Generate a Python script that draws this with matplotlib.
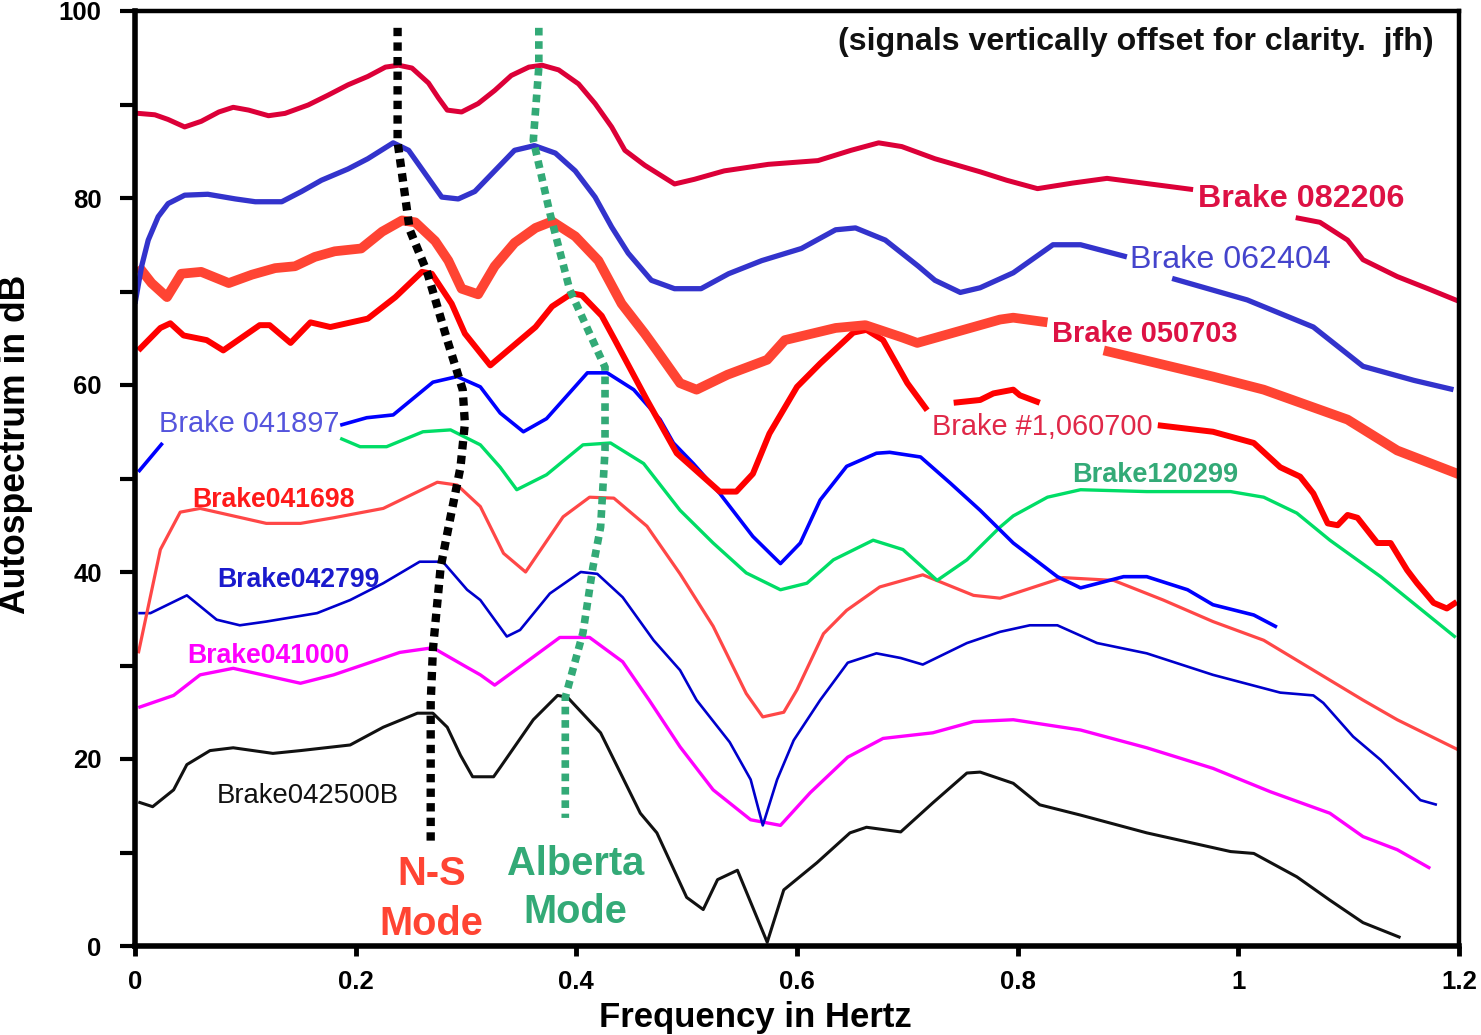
import numpy as np
import matplotlib
matplotlib.use("Agg")
import matplotlib.pyplot as plt

plt.rcParams['font.family'] = ['Liberation Sans', 'DejaVu Sans']

nan = np.nan

# ---------------- data (frequency in Hz, autospectrum in dB, offset) -------------
x_082206 = [0.0, 0.003, 0.018, 0.030, 0.045, 0.060, 0.076, 0.089, 0.103, 0.121, 0.136, 0.157, 0.175,
            0.193, 0.211, 0.227, 0.239, 0.251, 0.266, 0.275, 0.283, 0.296, 0.311, 0.326, 0.341, 0.357,
            0.369, 0.384, 0.402, 0.417, 0.432, 0.444, 0.462, 0.489, 0.507, 0.534, 0.574, 0.619, 0.649,
            0.674, 0.695, 0.725, 0.766, 0.790, 0.818, 0.850, 0.881, 0.920, 0.959, nan,
            1.052, 1.074, 1.099, 1.113, 1.144, 1.174, 1.201]
y_082206 = [89.1, 89.05, 88.9, 88.4, 87.6, 88.2, 89.2, 89.7, 89.4, 88.8, 89.05, 89.95, 91.0,
            92.1, 93.0, 94.0, 94.2, 93.9, 92.3, 90.7, 89.4, 89.2, 90.1, 91.5, 93.1, 94.0,
            94.2, 93.7, 92.2, 90.1, 87.6, 85.1, 83.5, 81.5, 82.0, 82.9, 83.6, 84.0, 85.1,
            85.9, 85.5, 84.2, 82.8, 81.9, 81.0, 81.6, 82.1, 81.5, 80.9, nan,
            77.9, 77.4, 75.5, 73.4, 71.6, 70.2, 68.9]

x_062404 = [0.0, 0.006, 0.012, 0.021, 0.030, 0.045, 0.066, 0.091, 0.109, 0.133, 0.151, 0.169, 0.193,
            0.211, 0.234, 0.248, 0.263, 0.278, 0.293, 0.308, 0.326, 0.344, 0.362, 0.381, 0.399, 0.417,
            0.432, 0.447, 0.468, 0.489, 0.513, 0.538, 0.568, 0.604, 0.635, 0.653, 0.680, 0.710, 0.725,
            0.748, 0.766, 0.796, 0.832, 0.857, 0.899, nan, 0.940, 1.008, 1.068, 1.113, 1.159, 1.195]
y_062404 = [68.7, 72.7, 75.5, 78.0, 79.4, 80.3, 80.4, 79.9, 79.6, 79.6, 80.7, 81.9, 83.1,
            84.2, 85.9, 85.1, 82.6, 80.1, 79.9, 80.7, 82.9, 85.1, 85.6, 84.8, 82.9, 80.1,
            76.9, 74.1, 71.2, 70.3, 70.3, 71.9, 73.3, 74.6, 76.6, 76.8, 75.5, 72.7, 71.2,
            69.9, 70.4, 72.0, 75.0, 75.0, 73.7, nan, 71.4, 69.1, 66.2, 62.0, 60.5, 59.5]

x_050703 = [0.003, 0.015, 0.029, 0.042, 0.060, 0.085, 0.106, 0.127, 0.145, 0.163, 0.181, 0.205, 0.224,
            0.242, 0.254, 0.272, 0.284, 0.296, 0.311, 0.326, 0.344, 0.363, 0.378, 0.399, 0.420, 0.441,
            0.462, 0.473, 0.494, 0.509, 0.537, 0.573, 0.589, 0.635, 0.662, 0.695, 0.709, 0.784, 0.796,
            0.827, nan, 0.878, 0.977, 1.023, 1.099, 1.144, 1.201]
y_050703 = [72.7, 70.9, 69.4, 71.9, 72.1, 70.9, 71.8, 72.5, 72.7, 73.7, 74.3, 74.6, 76.4,
            77.6, 77.4, 75.4, 73.3, 70.3, 69.7, 72.7, 75.2, 76.8, 77.5, 75.9, 73.3, 68.7,
            65.5, 63.7, 60.2, 59.5, 61.1, 62.7, 64.8, 66.1, 66.4, 65.1, 64.5, 67.0, 67.2,
            66.7, nan, 63.7, 60.9, 59.5, 56.3, 53.0, 50.4]

x_060700 = [0.003, 0.023, 0.032, 0.044, 0.065, 0.080, 0.113, 0.122, 0.141, 0.159, 0.177, 0.211, 0.236,
            0.260, 0.269, 0.287, 0.299, 0.322, 0.349, 0.363, 0.378, 0.396, 0.405, 0.423, 0.435, 0.464,
            0.491, 0.530, 0.545, 0.560, 0.575, 0.593, 0.600, 0.621, 0.651, 0.663, 0.678, 0.700, 0.718,
            nan, 0.742, 0.766, 0.778, 0.796, 0.802, 0.820, nan,
            0.927, 0.977, 1.014, 1.038, 1.056, 1.068, 1.081, 1.090, 1.099, 1.108, 1.126, 1.138,
            1.153, 1.162, 1.177, 1.189, 1.198]
y_060700 = [63.7, 66.1, 66.6, 65.3, 64.8, 63.7, 66.4, 66.4, 64.5, 66.7, 66.2, 67.1, 69.4,
            72.1, 71.9, 68.7, 65.5, 62.1, 64.8, 66.2, 68.4, 69.8, 69.6, 67.4, 64.8, 58.4,
            52.7, 48.6, 48.6, 50.5, 54.8, 58.4, 59.8, 62.3, 65.6, 65.9, 64.8, 60.2, 57.3,
            nan, 58.1, 58.4, 59.1, 59.5, 58.9, 58.1, nan,
            55.7, 55.0, 53.8, 51.2, 50.2, 48.4, 45.2, 45.0, 46.1, 45.8, 43.1, 43.1,
            40.2, 38.8, 36.7, 36.1, 36.8]

x_041897 = [0.003, 0.025, nan, 0.186, 0.210, 0.234, 0.270, 0.292, 0.313, 0.331, 0.352, 0.373, 0.410,
            0.428, 0.452, 0.476, 0.488, 0.506, 0.530, 0.560, 0.585, 0.603, 0.621, 0.645, 0.672,
            0.684, 0.712, 0.739, 0.766, 0.796, 0.836, 0.857, 0.896, 0.917, 0.954, 0.977, 1.014, 1.035]
y_041897 = [50.7, 53.8, nan, 55.7, 56.5, 56.8, 60.3, 60.9, 59.8, 57.0, 55.0, 56.4, 61.3,
            61.3, 59.5, 56.3, 53.8, 51.6, 48.4, 43.8, 40.9, 43.1, 47.7, 51.3, 52.7,
            52.8, 52.3, 49.5, 46.6, 43.1, 39.5, 38.3, 39.5, 39.5, 38.1, 36.5, 35.4, 34.1]

x_120299 = [0.186, 0.204, 0.228, 0.261, 0.286, 0.313, 0.331, 0.346, 0.373, 0.406, 0.431, 0.461, 0.494,
            0.524, 0.554, 0.585, 0.609, 0.633, 0.669, 0.696, 0.727, 0.754, 0.766, 0.784, 0.796,
            0.827, 0.857, 0.917, 0.993, 1.023, 1.053, 1.083, 1.129, 1.197]
y_120299 = [54.3, 53.4, 53.4, 55.0, 55.2, 53.6, 51.2, 48.8, 50.4, 53.6, 53.8, 51.6, 46.6,
            43.1, 39.9, 38.1, 38.8, 41.3, 43.4, 42.4, 39.1, 41.3, 42.7, 44.8, 46.0,
            48.0, 48.8, 48.6, 48.6, 48.0, 46.3, 43.4, 39.5, 33.0]

x_041698 = [0.003, 0.023, 0.041, 0.059, 0.119, 0.150, 0.180, 0.225, 0.274, 0.292, 0.313, 0.334, 0.354,
            0.388, 0.412, 0.434, 0.464, 0.494, 0.524, 0.554, 0.569, 0.588, 0.600, 0.624, 0.645,
            0.675, 0.714, 0.760, 0.784, 0.841, 0.887, 0.932, 0.977, 1.023, 1.068, 1.113, 1.144, 1.199]
y_041698 = [31.3, 42.4, 46.4, 46.8, 45.2, 45.2, 45.8, 46.8, 49.6, 49.3, 47.0, 42.0, 40.0,
            45.9, 48.0, 47.9, 44.9, 39.8, 34.2, 27.0, 24.5, 25.0, 27.4, 33.4, 35.9,
            38.4, 39.7, 37.5, 37.2, 39.4, 39.1, 37.0, 34.7, 32.7, 29.5, 26.3, 24.2, 21.0]

x_042799 = [0.003, 0.014, 0.047, 0.074, 0.095, 0.119, 0.165, 0.195, 0.225, 0.258, 0.279, 0.301, 0.313,
            0.337, 0.349, 0.376, 0.404, 0.419, 0.442, 0.470, 0.494, 0.509, 0.539, 0.558, 0.569,
            0.582, 0.597, 0.621, 0.646, 0.672, 0.694, 0.714, 0.754, 0.784, 0.811, 0.836, 0.872,
            0.917, 0.977, 1.038, 1.068, 1.077, 1.104, 1.129, 1.165, 1.180]
y_042799 = [35.6, 35.6, 37.5, 34.9, 34.3, 34.7, 35.6, 37.0, 38.8, 41.1, 41.1, 38.1, 37.0,
            33.1, 33.8, 37.7, 40.0, 39.8, 37.3, 32.7, 29.5, 26.3, 21.8, 17.8, 12.9,
            17.8, 22.0, 26.3, 30.3, 31.3, 30.8, 30.1, 32.4, 33.6, 34.3, 34.3, 32.4,
            31.3, 29.0, 27.1, 26.8, 26.0, 22.4, 19.9, 15.6, 15.1]

x_041000 = [0.003, 0.035, 0.059, 0.089, 0.150, 0.180, 0.240, 0.270, 0.301, 0.313, 0.326, 0.355, 0.385,
            0.412, 0.442, 0.466, 0.494, 0.524, 0.558, 0.585, 0.612, 0.646, 0.678, 0.723, 0.760,
            0.796, 0.857, 0.917, 0.977, 1.029, 1.083, 1.113, 1.144, 1.174]
y_041000 = [25.5, 26.8, 29.0, 29.7, 28.1, 29.0, 31.4, 31.9, 29.8, 29.0, 27.9, 30.4, 33.0,
            33.0, 30.4, 26.3, 21.3, 16.7, 13.5, 12.9, 16.4, 20.2, 22.2, 22.8, 24.0,
            24.2, 23.1, 21.2, 19.0, 16.5, 14.2, 11.7, 10.3, 8.3]

x_042500B = [0.003, 0.016, 0.035, 0.047, 0.068, 0.089, 0.125, 0.150, 0.195, 0.225, 0.256, 0.270, 0.283,
             0.295, 0.306, 0.325, 0.331, 0.361, 0.383, 0.392, 0.422, 0.458, 0.473, 0.500, 0.515,
             0.528, 0.546, 0.573, 0.588, 0.618, 0.648, 0.663, 0.694, 0.723, 0.754, 0.766, 0.796,
             0.820, 0.857, 0.917, 0.993, 1.014, 1.053, 1.083, 1.113, 1.147]
y_042500B = [15.4, 14.9, 16.7, 19.4, 20.9, 21.2, 20.6, 20.9, 21.5, 23.4, 24.9, 24.9, 23.4,
             20.4, 18.1, 18.1, 19.1, 24.2, 26.8, 26.6, 22.8, 14.2, 12.1, 5.2, 3.9,
             7.1, 8.1, 0.4, 6.0, 8.9, 12.1, 12.7, 12.2, 15.3, 18.5, 18.6, 17.4,
             15.1, 14.0, 12.1, 10.1, 9.9, 7.4, 4.9, 2.5, 0.9]

x_ns_mode = [0.238, 0.238, 0.249, 0.265, 0.283, 0.297, 0.299, 0.295, 0.286, 0.277, 0.270, 0.268, 0.268]
y_ns_mode = [98.2, 86.0, 76.6, 72.0, 64.8, 59.5, 55.9, 51.2, 45.9, 40.5, 31.7, 26.0, 11.0]

x_alberta = [0.366, 0.366, 0.361, 0.376, 0.394, 0.419, 0.426, 0.426, 0.422, 0.415, 0.406, 0.390, 0.390]
y_alberta = [98.2, 94.0, 86.2, 78.4, 70.2, 63.7, 61.9, 53.0, 44.8, 40.5, 33.5, 26.6, 13.7]

x_ticks = [0, 0.2, 0.4, 0.6, 0.8, 1.0, 1.2]
x_ticklabels = ['0', '0.2', '0.4', '0.6', '0.8', '1', '1.2']
y_ticks = [0, 20, 40, 60, 80, 100]
y_minor = [10, 30, 50, 70, 90]

# ---------------- figure ----------------
W, H = 1481, 1035
fig = plt.figure(figsize=(W / 100, H / 100), dpi=100)
L, R, T, B = 135, 1459, 11, 946
ax = fig.add_axes([L / W, (H - B) / H, (R - L) / W, (B - T) / H])
ax.set_xlim(0, 1.2)
ax.set_ylim(0, 100)

def line(x, y, color, lw, **kw):
    ax.plot(x, y, color=color, lw=lw, solid_joinstyle='round', solid_capstyle='butt', **kw)

line(x_042500B, y_042500B, '#111111', 2.2)
line(x_041000, y_041000, '#FF00FF', 2.4)
line(x_042799, y_042799, '#0000CC', 1.9)
line(x_041698, y_041698, '#FF4747', 2.3)
line(x_120299, y_120299, '#00DD66', 2.4)
line(x_041897, y_041897, '#0000FF', 2.6)
line(x_060700, y_060700, '#FF0000', 4.3)
line(x_050703, y_050703, '#FF4433', 7.0)
line(x_062404, y_062404, '#3333CC', 3.8)
line(x_082206, y_082206, '#DC0038', 3.6)

ax.plot(x_ns_mode, y_ns_mode, color='black', lw=6, linestyle=(0, (1, 0.75)),
        dash_capstyle='butt', dash_joinstyle='miter')
ax.plot(x_alberta, y_alberta, color='#33AA77', lw=5.5, linestyle=(0, (1, 0.75)),
        dash_capstyle='butt', dash_joinstyle='miter')

# ---------------- labels ----------------
def lab(x, y, s, color, size, weight='bold', ha='left'):
    ax.text(x, y, s, color=color, fontsize=size, fontweight=weight, ha=ha, va='baseline')

lab(0.963, 79.0, 'Brake 082206', '#DD1144', 23.2)
lab(0.902, 72.5, 'Brake 062404', '#4444CC', 23.2, 'normal')
lab(0.831, 64.6, 'Brake 050703', '#DD1144', 20.9)
lab(0.7226, 54.7, 'Brake #1,060700', '#E02848', 20.8, 'normal')
lab(0.0218, 55.0, 'Brake 041897', '#5555DD', 20.9, 'normal')
lab(0.8495, 49.6, 'Brake120299', '#33AA77', 19.5)
lab(0.0517, 47.0, 'Brake041698', '#FF1A1A', 19.2)
lab(0.0743, 38.4, 'Brake042799', '#1A1ACC', 19.2)
lab(0.0471, 30.3, 'Brake041000', '#FF00FF', 19.2)
lab(0.0743, 15.3, 'Brake042500B', '#111111', 19.8, 'normal')

lab(0.269, 6.5, 'N-S', '#FF4433', 28.7, ha='center')
lab(0.269, 1.2, 'Mode', '#FF4433', 28.7, ha='center')
lab(0.399, 7.6, 'Alberta', '#33AA77', 28.7, ha='center')
lab(0.399, 2.5, 'Mode', '#33AA77', 28.7, ha='center')

lab(1.177, 95.8, '(signals vertically offset for clarity.  jfh)', '#111111', 23.1, ha='right')

# ---------------- axes styling ----------------
for s in ax.spines.values():
    s.set_linewidth(3.2)
    s.set_color('black')
ax.spines['left'].set_linewidth(4.0)
ax.spines['bottom'].set_linewidth(4.0)

ax.set_xticks(x_ticks)
ax.set_xticklabels(x_ticklabels)
ax.set_yticks(y_ticks)
ax.set_yticks(y_minor, minor=True)
ax.tick_params(axis='y', which='both', direction='out', length=11, width=3, pad=13,
               labelsize=18.5)
ax.tick_params(axis='x', which='both', direction='out', length=7, width=3.5, pad=10,
               labelsize=18.5)
for t in ax.get_xticklabels() + ax.get_yticklabels():
    t.set_fontweight('bold')

ax.set_xlabel('Frequency in Hertz', fontsize=25, fontweight='bold')
ax.set_ylabel('Autospectrum in dB', fontsize=25.6, fontweight='bold')
ax.xaxis.set_label_coords((755 - L) / (R - L), (B - 1001) / (B - T))
ax.yaxis.set_label_coords((33 - L) / (R - L), (B - 444) / (B - T))

fig.savefig('out.png', dpi=100)
